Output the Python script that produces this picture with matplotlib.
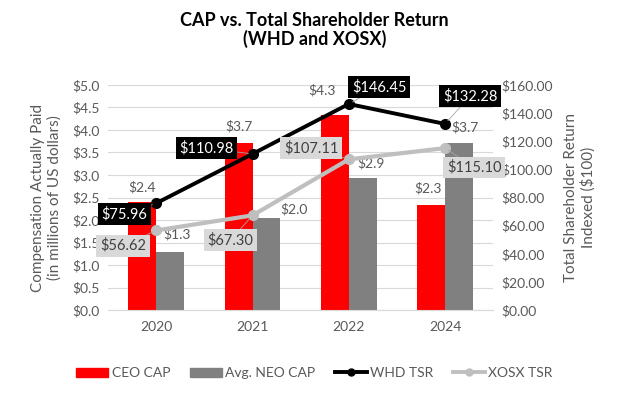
import numpy as np
import matplotlib
matplotlib.use('Agg')
import matplotlib.pyplot as plt
from matplotlib.patches import Patch
from matplotlib.lines import Line2D

plt.rcParams['font.family'] = ['Lato', 'DejaVu Sans']

# data
years    = ['2020', '2021', '2022', '2024']
ceo_cap  = [2.4, 3.7, 4.34, 2.33]
neo_cap  = [1.3, 2.04, 2.94, 3.7]
whd_tsr  = [75.96, 110.98, 146.45, 132.28]
xosx_tsr = [56.62, 67.30, 107.11, 115.10]

txt = '#595959'
red = '#FF0000'
gry = '#808080'
lgry = '#BFBFBF'

fig = plt.figure(figsize=(6.29, 3.95), dpi=100)
ax = fig.add_axes([0.172, 0.215, 0.612, 0.57])
ax2 = ax.twinx()

x = np.arange(len(years))
w = 0.29
ax.bar(x - w/2, ceo_cap, w, color=red, zorder=2)
ax.bar(x + w/2, neo_cap, w, color=gry, zorder=2)

ax.set_ylim(0, 5.0)
ax.set_yticks(np.arange(0, 5.01, 0.5))
ax.set_yticklabels(['$%.1f' % v for v in np.arange(0, 5.01, 0.5)])
ax.set_xlim(-0.5, len(years) - 0.5)
ax.set_xticks(x)
ax.set_xticklabels(years)
ax.grid(axis='y', color='#D9D9D9', linewidth=0.8, zorder=0)
ax.set_axisbelow(True)

ax2.set_ylim(0, 160)
ax2.set_yticks(np.arange(0, 161, 20))
ax2.set_yticklabels(['$%.2f' % v for v in np.arange(0, 161, 20)])

for a in (ax, ax2):
    for s in a.spines.values():
        s.set_visible(False)
    a.tick_params(length=0, colors=txt, labelsize=10)
ax.spines['bottom'].set_visible(True)
ax.spines['bottom'].set_color('#D9D9D9')
ax.tick_params(axis='y', pad=6)
ax.tick_params(axis='x', pad=8)
ax2.tick_params(axis='y', pad=6)

ax.set_ylabel('Compensation Actually Paid\n(in millions of US dollars)', color=txt, fontsize=11, labelpad=8)
ax2.set_ylabel('Total Shareholder Return\nIndexed ($100)', color=txt, fontsize=11, labelpad=8)

ax2.plot(x, xosx_tsr, color=lgry, lw=3.0, marker='o', ms=7, zorder=3)
ax2.plot(x, whd_tsr, color='black', lw=2.8, marker='o', ms=7, zorder=4)

# bar value labels (offsets in points)
ceo_off = [(0, 6), (0, 8), (-9, 13), (-2, 8)]
neo_off = [(5, 8), (20, 2), (6, 6), (4, 7)]
for i in range(len(years)):
    ax.annotate('$%.1f' % ceo_cap[i], (x[i] - w/2, ceo_cap[i]), xytext=ceo_off[i],
                textcoords='offset points', ha='center', va='bottom', color=txt, fontsize=10, zorder=5)
    ax.annotate('$%.1f' % neo_cap[i], (x[i] + w/2, neo_cap[i]), xytext=neo_off[i],
                textcoords='offset points', ha='center', va='bottom', color=txt, fontsize=10, zorder=5)

# line value labels
whd_off = [(-23, -8), (-33, 4), (22, 12), (18, 20)]
xosx_off = [(-24, -11), (-16, -18), (-27, 8), (21, -14)]
for i in range(len(years)):
    ax2.annotate('$%.2f' % whd_tsr[i], (x[i], whd_tsr[i]), xytext=whd_off[i],
                 textcoords='offset points', ha='center', va='center', color='white', fontsize=10.5,
                 bbox=dict(boxstyle='square,pad=0.25', fc='black', ec='none'),
                 arrowprops=dict(arrowstyle='-', color='#A6A6A6', lw=0.6, shrinkA=0, shrinkB=3),
                 zorder=6)
    ax2.annotate('$%.2f' % xosx_tsr[i], (x[i], xosx_tsr[i]), xytext=xosx_off[i],
                 textcoords='offset points', ha='center', va='center', color='#404040', fontsize=10.5,
                 bbox=dict(boxstyle='square,pad=0.25', fc='#D9D9D9', ec='none'),
                 arrowprops=dict(arrowstyle='-', color='#A6A6A6', lw=0.6, shrinkA=0, shrinkB=3),
                 zorder=6)

fig.suptitle('CAP vs. Total Shareholder Return\n(WHD and XOSX)', fontsize=13, fontweight='bold',
             y=0.97, color='black', linespacing=1.1)

handles = [Patch(color=red), Patch(color=gry),
           Line2D([], [], color='black', lw=2.8, marker='o', ms=5),
           Line2D([], [], color=lgry, lw=2.8, marker='o', ms=5)]
labels = ['CEO CAP', 'Avg. NEO CAP', 'WHD TSR', 'XOSX TSR']
fig.legend(handles, labels, loc='center', bbox_to_anchor=(0.5, 0.055), ncol=4, frameon=False,
           fontsize=10, labelcolor=txt, handlelength=2.3, columnspacing=1.4, handletextpad=0.25)

fig.savefig('out.png', dpi=100)
